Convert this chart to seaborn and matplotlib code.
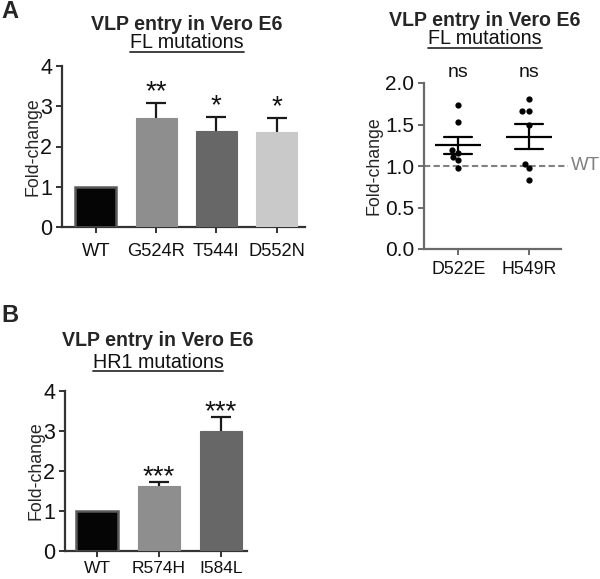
import numpy as np
import pandas as pd
import matplotlib
matplotlib.use("Agg")
import matplotlib.pyplot as plt
from matplotlib.lines import Line2D
import seaborn as sns

# Panel A (left): FL mutations, bar chart
a_cats = ["WT", "G524R", "T544I", "D552N"]
a_vals = [1.0, 2.72, 2.39, 2.37]
a_err = [0.0, 0.35, 0.35, 0.33]
a_stars = ["", "**", "*", "*"]
a_colors = ["#050505", "#8e8e8e", "#676767", "#c9c9c9"]

# Panel A (right): individual replicates
d522e = [1.73, 1.53, 1.19, 1.16, 1.11, 1.07, 0.97]
h549r = [1.81, 1.66, 1.66, 1.50, 1.03, 0.97, 0.83]
c_cats = ["D522E", "H549R"]
c_labels = ["ns", "ns"]

# Panel B: HR1 mutations
b_cats = ["WT", "R574H", "I584L"]
b_vals = [1.0, 1.62, 3.0]
b_err = [0.0, 0.10, 0.36]
b_stars = ["", "***", "***"]
b_colors = ["#050505", "#8e8e8e", "#676767"]

sns.set_style("ticks")
plt.rcParams["font.family"] = ["Liberation Sans", "DejaVu Sans"]

W, H = 600, 579
fig = plt.figure(figsize=(6, 5.79), dpi=100)


def rect(l, t, r, b):
    return [l / W, 1 - b / H, (r - l) / W, (b - t) / H]


def fpos(x, y):
    return x / W, 1 - y / H


def style_axes(ax, col, lpad):
    sns.despine(ax=ax)
    for s in ["left", "bottom"]:
        ax.spines[s].set_color(col)
        ax.spines[s].set_linewidth(1.6)
    ax.tick_params(colors=col, width=1.4, length=4, pad=3,
                   labelcolor="#111111")
    ax.set_ylabel("Fold-change", fontsize=12.8, labelpad=lpad)
    ax.set_xlabel("")


def bar_panel(ax, cats, vals, err, colors, stars, xlim, star_off, xsize, xpad):
    sns.barplot(x=cats, y=vals, hue=cats, palette=colors, legend=False,
                width=0.68, saturation=1, ax=ax, zorder=3)
    for i, p in enumerate(ax.patches):
        if i == 0:
            p.set_edgecolor("#5a5a5a")
            p.set_linewidth(1.8)
        else:
            p.set_edgecolor(colors[i])
            p.set_linewidth(0.8)
    idx = [i for i in range(len(cats)) if err[i] > 0]
    _, caps, _ = ax.errorbar(idx, [vals[i] for i in idx],
                             yerr=[[0] * len(idx), [err[i] for i in idx]],
                             fmt="none", ecolor="#1a1a1a", elinewidth=1.6,
                             capsize=7, capthick=1.6, zorder=2)
    caps[0].set_visible(False)
    for i, s in enumerate(stars):
        if s:
            ax.text(i, vals[i] + err[i] + star_off, s, ha="center",
                    va="center", fontsize=20, color="#111111")
    ax.set_ylim(0, 4)
    ax.set_yticks([0, 1, 2, 3, 4])
    ax.set_xlim(*xlim)
    style_axes(ax, "#333333", -1)
    ax.tick_params(axis="y", labelsize=15.5)
    ax.tick_params(axis="x", labelsize=xsize, pad=xpad)


# --- Panel A left
ax1 = fig.add_axes(rect(62, 66, 305, 227))
bar_panel(ax1, a_cats, a_vals, a_err, a_colors, a_stars, (-0.56, 3.47),
          0.27, 13.2, 7.5)

# --- Panel B
ax3 = fig.add_axes(rect(65, 391, 247, 551))
bar_panel(ax3, b_cats, b_vals, b_err, b_colors, b_stars, (-0.52, 2.42),
          0.12, 12.5, 3.5)

# --- Panel A right
ax2 = fig.add_axes(rect(424, 83, 561, 249))
df = pd.DataFrame({
    "mut": ["D522E"] * len(d522e) + ["H549R"] * len(h549r),
    "fc": d522e + h549r,
})
sns.swarmplot(data=df, x="mut", y="fc", order=c_cats, color="black",
              size=4.5, ax=ax2)
sns.pointplot(data=df, x="mut", y="fc", order=c_cats, errorbar="se",
              color="black", linestyle="none", markers="_", markersize=33,
              markeredgewidth=1.6, capsize=0.4, err_kws={"linewidth": 1.6},
              ax=ax2)
ax2.set_ylim(0, 2.0)
ax2.set_yticks([0, 0.5, 1.0, 1.5, 2.0])
ax2.set_yticklabels(["0.0", "0.5", "1.0", "1.5", "2.0"])
ax2.set_xlim(-0.486, 1.457)
ax2.plot([-0.486, 1.557], [1, 1], color="#808080", lw=1.5,
         dashes=(3, 1.6), clip_on=False, zorder=1)
ax2.text(1.6, 1.0, "WT", color="#808080", fontsize=13.5, va="center",
         ha="left", clip_on=False)
for i, s in enumerate(c_labels):
    ax2.text(i, 2.13, s, ha="center", va="center", fontsize=14,
             color="#111111", clip_on=False)
style_axes(ax2, "#6a6a6a", 2)
ax2.tick_params(axis="y", labelsize=15)
ax2.tick_params(axis="x", labelsize=12.8, pad=5)

# --- titles and panel letters
titles = [
    (187, 25, 43, "FL mutations"),
    (485, 20, 39, "FL mutations"),
    (158, 340, 362, "HR1 mutations"),
]
subs = []
for x, yt, ys, sub in titles:
    fig.text(*fpos(x, yt), "VLP entry in Vero E6", ha="center", va="center",
             fontsize=14.1, fontweight="bold")
    subs.append(fig.text(*fpos(x, ys), sub, ha="center", va="center",
                         fontsize=14.2, color="#111111"))

fig.text(*fpos(10, 11), "A", ha="center", va="center", fontsize=17,
         fontweight="bold")
fig.text(*fpos(10, 315), "B", ha="center", va="center", fontsize=17,
         fontweight="bold")

# underline the subtitles
fig.canvas.draw()
r = fig.canvas.get_renderer()
for t in subs:
    bb = t.get_window_extent(r)
    y = (bb.y0 + 1) / fig.bbox.height
    fig.add_artist(Line2D([bb.x0 / fig.bbox.width, bb.x1 / fig.bbox.width],
                          [y, y], color="#333333", lw=1.3))

fig.savefig("out.png", dpi=100)
